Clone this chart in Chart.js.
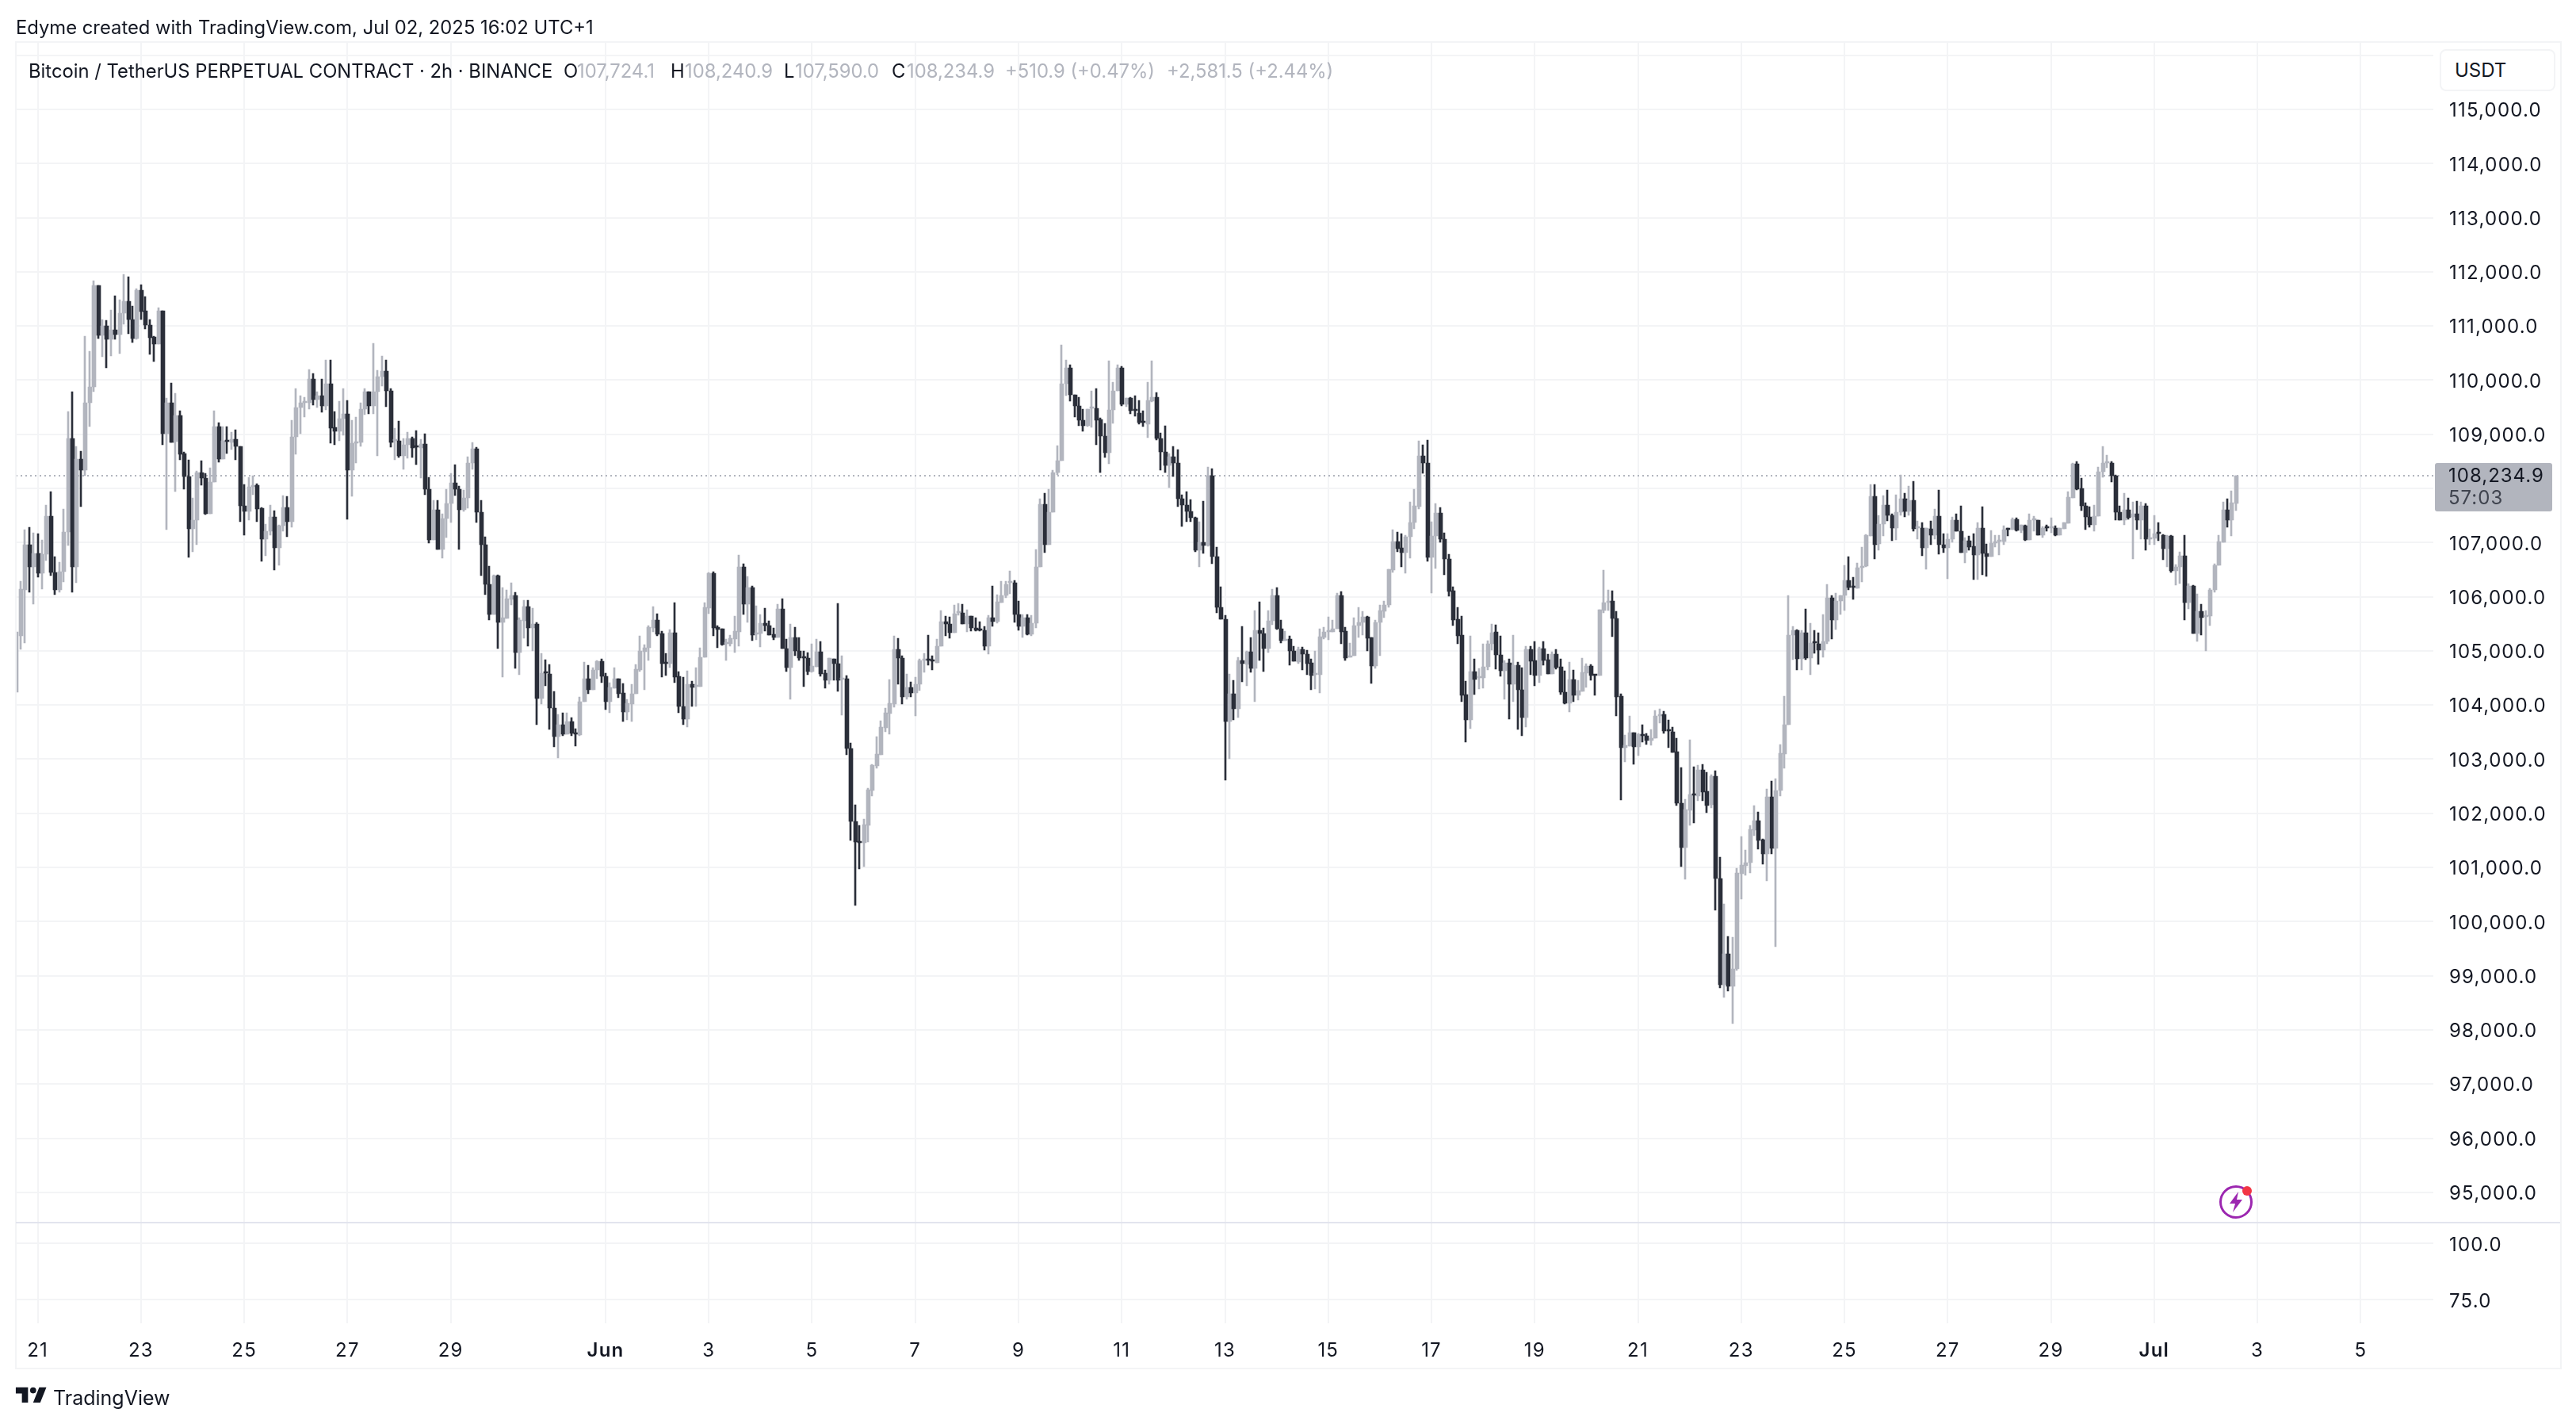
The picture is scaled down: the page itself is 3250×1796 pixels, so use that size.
<!DOCTYPE html>
<html>
<head>
<meta charset="utf-8">
<title>BTCUSDT 2h</title>
<script src="https://cdn.jsdelivr.net/npm/chart.js@4/dist/chart.umd.min.js"></script>
<style>
  html, body { margin: 0; padding: 0; background: #fff; }
  body { width: 3250px; height: 1796px; position: relative; overflow: hidden; font-family: Inter, sans-serif; color: #131722; }
  canvas { position: absolute; left: 0; top: 0; }
  .t { position: absolute; white-space: nowrap; font-size: 23.8px; line-height: 30px; }
  .g { color: #b2b5be; }
  #frame { position: absolute; left: 19px; top: 52px; width: 3209px; height: 1671px; border: 2px solid #f3f4f6; }
  #sep { position: absolute; left: 20px; top: 1541px; width: 3210px; height: 2px; background: #e2e4ee; }
  #usdt { position: absolute; left: 3078px; top: 62px; width: 142px; height: 49px; border: 2px solid #f3f4f6; border-radius: 8px; background: #fff; font-size: 24px; line-height: 49px; text-indent: 17px; }
  #tag { position: absolute; left: 3072px; top: 584px; width: 148px; height: 61px; background: #b2b5be; border-radius: 3px; font-size: 24px; letter-spacing: 1px; }
  #tag div { position: absolute; left: 17px; line-height: 28px; }
</style>
</head>
<body>
<canvas id="chartBTC" width="3250" height="1796"></canvas>
<div id="frame"></div>
<div id="sep"></div>
<div class="t" style="left:20px;top:20px">Edyme created with TradingView.com, Jul 02, 2025 16:02 UTC+1</div>
<div class="t" style="left:36px;top:75px">Bitcoin / TetherUS PERPETUAL CONTRACT · 2h · BINANCE</div>
<div class="t" style="left:711px;top:75px">O</div><div class="t g" style="left:728px;top:75px">107,724.1</div>
<div class="t" style="left:846px;top:75px">H</div><div class="t g" style="left:864px;top:75px">108,240.9</div>
<div class="t" style="left:989px;top:75px">L</div><div class="t g" style="left:1003px;top:75px">107,590.0</div>
<div class="t" style="left:1125px;top:75px">C</div><div class="t g" style="left:1144px;top:75px">108,234.9</div>
<div class="t g" style="left:1268px;top:75px">+510.9 (+0.47%)</div>
<div class="t g" style="left:1472px;top:75px">+2,581.5 (+2.44%)</div>
<div id="usdt">USDT</div>
<div id="tag"><div style="top:2px">108,234.9</div><div style="top:30px;color:#3f434e">57:03</div></div>
<svg style="position:absolute;left:2795px;top:1490px" width="52" height="52" viewBox="0 0 52 52">
  <circle cx="26" cy="26" r="19.5" fill="none" stroke="#9c27b0" stroke-width="3"/>
  <path d="M29 13 L18 28 L25 28 L22 39 L34 23 L27 23 Z" fill="#9c27b0"/>
  <circle cx="40" cy="12" r="6" fill="#f23645"/>
</svg>
<svg style="position:absolute;left:17px;top:1742px" width="47" height="36" viewBox="0 0 36 28"><path fill="#131722" d="M14 6H2v6h6v9h6V6Zm12 15h-7l6-15h7l-6 15Zm-7-9a3 3 0 1 0 0-6 3 3 0 0 0 0 6Z"/></svg>
<div class="t" style="left:67px;top:1748px;font-size:25px">TradingView</div>

<script>
// first visible bar sits 5 slots before May 21, one slot = 2h
var firstSlot = -5;

var opens = [
104230,105280,106124,106954,106549,106793,106427,106778,107486,106451,
106124,106466,107193,108916,106549,108540,108340,109589,109882,111746,
110829,111000,110756,110926,110838,111234,111453,111122,110770,111658,
111278,111024,110795,110663,111278,109013,109589,108867,109345,108643,
108223,107257,107422,108291,108184,107535,108111,109140,108540,108885,
108857,108906,108770,107681,107574,108037,108062,107633,107061,107208,
107471,106905,107315,107647,107389,108950,109487,109575,109575,110028,
109638,109721,109526,109940,109121,109052,109282,109370,108340,108833,
108857,109472,109780,109526,109780,110072,110175,109804,108872,108882,
108603,108799,108930,108774,108750,108823,107993,107055,107602,106880,
107441,107719,108105,107983,107612,107822,108467,108735,107554,106958,
106235,105674,106391,105527,105600,105957,106020,104975,105561,105820,
105429,105493,104126,104604,104575,103940,103413,103632,103462,103691,
103486,103452,104057,104487,104282,104643,104809,104536,104062,104311,
104487,104218,103867,104023,104204,104648,104990,105063,105429,105566,
105317,104795,104770,105332,104526,103979,103745,104380,104345,104345,
104878,105796,106430,105439,105405,105132,105127,105224,105356,106552,
105869,106172,105307,105322,105512,105466,105309,105241,105773,105040,
104684,105251,104992,104879,104869,104625,104713,104987,104586,104454,
104850,104762,104478,104488,103193,101854,101478,101449,101781,102426,
102880,103086,103584,103843,104024,105026,104860,104156,104322,104224,
104381,104821,104835,104821,104772,105084,105539,105495,105329,105700,
105700,105490,105642,105417,105387,105383,105080,105612,105544,105896,
106018,106252,106262,105666,105456,105612,105309,105505,106549,107707,
106960,107565,108289,108513,109932,110231,109730,109521,109260,109163,
109484,109484,109275,108961,108663,109447,109805,110231,109559,109671,
109447,109393,109225,109183,109618,109686,108927,108680,108429,108586,
108471,107811,107686,107576,107460,106853,107005,106953,108235,106738,
105811,105591,103701,104214,103937,104827,104754,104984,104670,105382,
105314,105036,105549,106021,105403,105183,105225,105005,104790,105026,
104947,104774,104565,104565,105251,105350,105350,105413,106026,105366,
104884,104905,105460,105523,105628,105246,104727,105523,105738,105853,
106497,107026,106906,106816,107110,107366,107670,108597,108476,106733,
107120,107550,107068,106701,106110,105586,105288,104188,103732,104617,
104502,104502,104712,105130,105350,104921,104633,104780,104387,104738,
104275,103762,105030,104826,104539,105047,104837,104567,104936,104699,
104231,104032,104473,104181,104258,104595,104716,104556,104539,105747,
105890,105918,105598,104165,103205,103244,103486,103227,103453,103431,
103338,103393,103795,103823,103531,103503,103139,102191,101369,102059,
102356,102323,102803,102400,102152,102687,100802,98833,99412,98806,
99120,100884,101028,101088,101695,101860,101518,101243,102307,101353,
102428,103101,103630,105289,105377,104854,105333,104865,105157,105129,
105019,105168,105978,105565,105918,106022,106309,106182,106150,106539,
106563,107119,107857,106972,107339,107696,107510,107266,107559,107804,
107569,107775,107266,107275,106899,107256,107134,107481,106962,106899,
107060,107422,107217,106811,107041,106933,106766,107266,106801,106737,
106996,107016,107016,107261,107236,107432,107231,107315,107055,107417,
107422,107143,107290,107275,107271,107143,107256,107354,107829,108450,
108005,107682,107476,107334,107486,108308,108465,108465,108230,107559,
107413,107608,107471,107525,107413,107682,107070,107075,107183,107143,
106884,107129,106483,106546,106761,105895,106203,105327,105734,105631,
105650,106120,106580,107011,107599,107422,107724.1
];

var highs = [
105344,106280,107232,107281,107174,107159,107047,107686,107940,106734,
106646,107613,109414,109794,108784,108682,110819,110541,111844,111756,
111126,111112,111292,111566,111488,111951,111907,111366,111688,111761,
111551,111126,110809,111336,111278,109677,109955,109755,109433,108672,
108525,107818,108320,108511,108272,108379,109433,109209,109150,109150,
109038,109082,108770,108071,108208,108242,108086,107647,107340,107686,
107589,107325,107876,107852,109267,109843,109721,109682,110194,110121,
109794,110028,110380,110380,109418,109609,109853,109623,109267,109316,
109589,109853,109794,110687,110185,110443,110370,109843,109116,109248,
108930,109043,108955,109067,108911,109009,108203,107783,107783,107529,
107993,108276,108442,108042,107978,108589,108852,108764,107783,107104,
106567,106406,106406,106172,106128,106259,106079,105610,105932,105932,
105786,105522,104951,104834,104751,104248,103823,103852,103852,103764,
103559,104145,104790,104731,104687,104829,104848,104585,104414,104692,
104487,104394,104101,104380,104746,105278,105112,105464,105815,105683,
105366,104956,105390,105893,104614,104511,104633,104438,104692,105053,
105893,106455,106465,105464,105415,105224,105293,105639,106767,106606,
106372,106196,105830,105669,105786,105554,105427,105861,105964,105221,
105500,105441,105251,104992,104967,105133,105221,105172,104645,104870,
104850,105876,104909,104542,103296,102157,101771,101888,102460,102905,
103413,103706,103941,104469,105275,105231,104918,104576,104430,104518,
104845,104957,105290,104909,105212,105739,105642,105627,105847,105876,
105866,105759,105642,105612,105539,105451,105661,106199,106033,106287,
106287,106482,106296,105920,105676,105671,105661,106873,107804,107916,
107990,108341,108790,110656,110380,110283,109730,109686,109462,109469,
109805,109842,109297,109200,110365,109970,110283,110253,109671,109686,
109717,109633,109440,109958,110351,109775,109031,109162,108649,108780,
108717,107879,107947,107801,107476,107392,107764,108403,108372,106916,
106178,105654,104570,104460,104879,105455,105000,105251,105748,105905,
105418,105748,106141,106172,105570,105366,105272,105088,105078,105068,
105015,104853,105000,105408,105434,105628,105565,106073,106094,105434,
105146,105612,105806,105727,105644,105246,105570,105853,105926,106508,
107246,107193,107172,107141,107759,107979,108885,108811,108900,107392,
107727,107654,107183,106785,106188,105806,105644,104439,105277,104853,
104675,105130,105193,105497,105481,105277,104816,104853,105288,104787,
104694,105085,105085,105168,105069,105168,104936,104980,105025,104854,
104633,104793,104650,104457,104870,104765,104749,104562,105763,106486,
106122,106111,105730,104203,103448,103795,103486,103470,103635,103470,
103542,103900,103927,103889,103723,103591,103382,102841,102257,103354,
102858,102886,102902,102753,102715,102781,101188,100333,99721,99710,
100984,101573,101325,101777,102141,102025,101535,102444,102593,102648,
103266,104164,106028,105449,105388,105377,105774,105510,105377,105339,
105675,106232,106028,106067,106022,106587,106737,106364,106618,106920,
107158,108079,108071,107496,107863,107966,107525,107878,108255,107917,
108049,108137,107403,107373,107275,107393,107623,107975,107168,107168,
107471,107525,107682,107099,107129,107173,107373,107657,106972,107227,
107143,107143,107315,107275,107452,107452,107334,107324,107535,107491,
107422,107305,107324,107466,107315,107275,107378,107936,108470,108504,
108186,107731,107657,107687,108401,108783,108612,108504,108255,107682,
107917,107819,107745,107770,107745,107716,107256,107496,107364,107158,
107143,107139,106590,106835,107143,106247,106213,106052,105866,105748,
106159,106615,107138,107755,107804,107951,108240.9
];

var lows = [
104230,105026,105148,106076,105866,106354,106144,106671,106393,106037,
106086,106271,106939,106085,106256,107662,108232,109145,109794,110770,
110429,110224,110448,110756,110487,111039,110853,110692,110750,111126,
110941,110477,110341,110663,108808,107242,108843,107940,108525,107989,
106720,106832,106963,108062,107515,107535,108111,108486,108540,108647,
108720,108525,107389,107140,107418,107881,107389,106656,106754,107135,
106490,106583,107208,107110,107281,108623,109013,109321,109467,109536,
109501,109404,109453,108833,108808,108877,108989,107432,107852,108467,
108779,109365,109379,109379,108599,109892,109511,108769,108530,108579,
108345,108564,108579,108447,108188,107886,106992,107055,106880,106714,
107099,107373,107871,106880,107583,107641,108345,107378,106396,106040,
105576,105674,105044,104516,105600,105854,104682,104565,105234,105092,
105005,103637,104023,104360,103549,103232,103027,103437,103462,103427,
103247,103437,104057,104209,104282,104492,104419,103915,103862,104311,
104135,103696,103730,103696,104204,104614,104282,104829,105356,105278,
104516,104546,104692,104419,103857,103637,103598,103979,103979,104345,
104878,105688,105283,105063,105102,104829,105092,104975,105092,105674,
105527,105195,105210,105073,105366,105285,105202,105241,105036,104625,
104112,104904,104830,104347,104566,104601,104713,104537,104317,104381,
104464,104259,103819,103086,101497,100305,100974,101009,101473,102323,
102831,103086,103501,103467,103956,104381,104014,104112,104146,103804,
104273,104601,104733,104640,104772,105084,105270,105226,105329,105651,
105490,105343,105358,105358,105358,105006,104933,105446,105505,105886,
105974,106052,105519,105373,105251,105285,105270,105427,106549,106818,
106960,107565,108252,108513,109708,109611,109312,109163,109058,109148,
109133,108812,108289,108565,108461,109200,109805,109521,109506,109372,
109330,109183,109136,108942,109602,108900,108335,108298,108010,108220,
107659,107303,107392,107392,106832,106544,106806,106937,106612,105706,
105591,102617,103010,103727,103769,104434,104356,104607,104068,104816,
104617,104963,105487,105392,105146,105183,104738,104801,104764,104649,
104555,104282,104303,104225,105225,105198,105350,105413,105130,104816,
104884,104905,105251,105288,105000,104397,104670,104911,105612,105811,
106450,106832,106544,106439,106717,107256,107623,108272,106649,106073,
106518,107000,106408,106010,105460,105130,104068,103308,103570,104198,
104293,104314,104649,105015,104659,104523,104109,103743,104057,103542,
103431,103597,104562,104357,104407,104738,104567,104567,104661,104198,
104021,103878,104065,104098,104258,104330,104462,104181,104539,105708,
105747,105267,103801,102252,102952,103244,102908,103062,103316,103271,
103255,103393,103668,103475,103211,103117,102136,101022,100785,101777,
101821,102224,102235,102015,102097,100217,98778,98596,98718,98117,
99093,100416,100857,100901,101584,101342,101066,100746,101243,99534,
102318,102825,103630,104843,104650,104650,104837,104562,104958,104754,
104881,105129,105212,105388,105675,105752,106126,105944,106150,106269,
106547,107119,106698,106864,107119,107398,107031,107045,107496,107471,
107510,107207,107060,106752,106502,106957,107070,106791,106811,106336,
107001,107207,106811,106620,106864,106311,106311,106409,106370,106737,
106913,106766,106957,107129,107236,107217,107187,107041,107055,107207,
107143,107099,107217,107187,107119,107143,107256,107354,107829,107966,
107584,107236,107290,107207,107486,108206,108377,108113,107422,107413,
107324,107432,106693,107236,107060,106864,106957,106967,107031,106688,
106556,106443,106218,106238,105577,105782,105327,105180,105298,105004,
105474,106076,106580,107011,107290,107129,107590
];

var closes = [
105344,106134,106954,106549,106793,106427,106778,107486,106451,106124,
106466,107193,108916,106549,108540,108340,109589,109882,111746,110829,
111000,110756,110926,110838,111234,111453,111122,110770,111658,111268,
111014,110780,110663,111278,109013,109589,108857,109345,108633,108223,
107257,107422,108291,108184,107525,108111,109140,108540,108877,108870,
108906,108770,107681,107574,108037,108062,107623,107061,107208,107471,
106905,107315,107647,107389,108950,109487,109575,109589,110028,109638,
109721,109526,109940,109111,109052,109282,109370,108340,108833,108867,
109472,109780,109526,109780,110072,110175,109804,108852,108896,108603,
108808,108921,108750,108755,108823,107993,107055,107602,106880,107441,
107719,108105,107983,107612,107822,108467,108735,107554,106958,106235,
105674,106391,105527,105610,105966,106020,104975,105571,105820,105429,
105493,104126,104585,104585,103940,103413,103632,103462,103691,103476,
103457,104057,104487,104282,104643,104809,104536,104062,104321,104487,
104209,103877,104028,104204,104658,104995,105063,105439,105566,105307,
104770,104770,105332,104521,103979,103745,104380,104331,104355,104882,
105805,106440,105429,105390,105122,105146,105234,105366,106552,105869,
106172,105298,105332,105512,105464,105295,105241,105773,105036,104684,
105251,104992,104860,104860,104625,104718,104987,104576,104464,104860,
104762,104464,104498,103193,101854,101473,101449,101791,102436,102890,
103096,103589,103853,104029,105026,104860,104156,104322,104224,104381,
104821,104830,104821,104806,105084,105539,105495,105334,105686,105715,
105490,105642,105417,105383,105373,105080,105612,105544,105905,106023,
106228,106262,105666,105456,105612,105309,105514,106551,107707,106960,
107565,108289,108513,109932,110231,109730,109521,109260,109163,109469,
109506,109260,108961,108663,109447,109805,110231,109559,109671,109432,
109440,109215,109215,109633,109686,108916,108670,108429,108586,108466,
107811,107686,107570,107455,106853,107005,106953,108235,106738,105811,
105591,103701,104214,103937,104816,104764,104984,104670,105382,105314,
105036,105560,106021,105403,105183,105225,105005,104801,105026,104947,
104764,104539,104581,105261,105350,105366,105413,106026,105350,104869,
104905,105466,105523,105628,105235,104727,105523,105748,105853,106508,
107026,106890,106816,107110,107371,107680,108597,108466,106733,107120,
107550,107057,106691,106099,105575,105282,104183,103732,104617,104471,
104513,104712,105130,105340,104921,104633,104780,104387,104738,104275,
103762,105030,104810,104539,105047,104826,104567,104936,104688,104231,
104032,104473,104181,104264,104606,104716,104539,104539,105763,105890,
105918,105592,104153,103205,103255,103486,103227,103459,103437,103338,
103393,103795,103823,103514,103514,103128,102191,101369,102070,102345,
102334,102803,102389,102141,102687,100802,98833,99412,98806,99120,
100895,101039,101094,101706,101860,101502,101243,102307,101353,102428,
103106,103630,105289,105377,104854,105333,104865,105146,105140,105019,
105168,105978,105565,105918,106022,106309,106166,106166,106539,106563,
107142,107857,106960,107339,107696,107501,107266,107559,107804,107569,
107775,107251,107285,106899,107266,107134,107481,106962,106899,107070,
107422,107207,106811,107041,106923,106766,107266,106796,106737,106996,
107016,107036,107246,107246,107432,107231,107324,107055,107413,107432,
107143,107275,107275,107285,107143,107266,107364,107843,108450,107990,
107677,107471,107334,107491,108313,108465,108480,108230,107559,107413,
107608,107461,107525,107413,107682,107060,107094,107173,107168,106884,
107129,106483,106546,106761,105895,106203,105327,105734,105621,105650,
106130,106585,107021,107599,107422,107731,108234.9
];

var lastPrice = 108234.9;
var priceTicks = [116000,115000,114000,113000,112000,111000,110000,109000,108000,107000,106000,105000,104000,103000,102000,101000,100000,99000,98000,97000,96000,95000];
var hiddenPriceLabels = [116000, 108000];
var paneTicks = [100, 75];
var dayTicks = [0,2,4,6,8,11,13,15,17,19,21,23,25,27,29,31,33,35,37,39,41,43,45];
var dayLabels = ['21','23','25','27','29','Jun','3','5','7','9','11','13','15','17','19','21','23','25','27','29','Jul','3','5'];

var upColor = '#b2b5be';
var downColor = '#2a2e39';
var gridColor = '#f3f4f6';
var fontName = 'Inter, sans-serif';
var slotsPerDay = 12;
var xMin = -5.085, xMax = 556.9;

var slots = opens.map(function (v, i) { return firstSlot + i; });
var barColors = opens.map(function (v, i) { return closes[i] >= v ? upColor : downColor; });
var tickSlots = dayTicks.map(function (d) { return d * slotsPerDay; });

function fmt(v) {
    return v.toLocaleString('en-US', { minimumFractionDigits: 1, maximumFractionDigits: 1 });
}

// keep candles on whole pixels, the way the original platform draws them
var snapBars = {
    id: 'snapBars',
    afterDatasetsUpdate: function (chart) {
        [1, 2].forEach(function (d) {
            chart.getDatasetMeta(d).data.forEach(function (el) {
                el.x = Math.round(el.x) + (d === 2 ? 0.5 : 0);
                el.y = Math.round(el.y);
                el.base = Math.round(el.base);
            });
        });
    },
    beforeDraw: function (chart) {
        chart.ctx.letterSpacing = '1.2px';
    }
};

var ctx = document.getElementById('chartBTC');
var myChart = new Chart(ctx, {
    type: 'bar',
    plugins: [snapBars],
    data: {
        datasets: [{
            type: 'line',
            data: [{ x: xMin, y: lastPrice }, { x: xMax, y: lastPrice }],
            borderColor: '#b2b5be',
            borderWidth: 2,
            borderDash: [2, 4],
            pointRadius: 0,
            yAxisID: 'y',
            order: 3
        }, {
            // wicks
            data: slots.map(function (s, i) { return { x: s, y: [lows[i], highs[i]] }; }),
            backgroundColor: barColors,
            barThickness: 2,
            grouped: false,
            yAxisID: 'y',
            order: 2
        }, {
            // bodies
            data: slots.map(function (s, i) { return { x: s, y: [opens[i], closes[i]] }; }),
            backgroundColor: barColors,
            barThickness: 5,
            minBarLength: 2,
            grouped: false,
            yAxisID: 'y',
            order: 1
        }]
    },
    options: {
        responsive: false,
        devicePixelRatio: 1,
        animation: false,
        layout: { padding: { left: 20, top: 53, right: 20, bottom: 71 } },
        plugins: { legend: { display: false }, tooltip: { enabled: false } },
        scales: {
            x: {
                type: 'linear',
                min: xMin,
                max: xMax,
                offset: false,
                grid: { color: gridColor, lineWidth: 2, offset: false, drawTicks: false },
                border: { display: false },
                afterBuildTicks: function (scale) {
                    scale.ticks = tickSlots.map(function (s) { return { value: s }; });
                },
                afterFit: function (scale) { scale.height = 56; },
                ticks: {
                    autoSkip: false,
                    maxRotation: 0,
                    padding: 20,
                    color: '#131722',
                    font: function (c) {
                        var bold = c.tick && (c.tick.label === 'Jun' || c.tick.label === 'Jul');
                        return { family: fontName, size: 24, weight: bold ? '600' : '400' };
                    },
                    callback: function (v) { return dayLabels[tickSlots.indexOf(v)]; }
                }
            },
            y: {
                type: 'linear',
                position: 'right',
                stack: 'panes',
                stackWeight: 1488.7,
                min: 94445,
                max: 116245,
                grid: { color: gridColor, lineWidth: 2, drawTicks: false },
                border: { display: false },
                afterBuildTicks: function (scale) {
                    scale.ticks = priceTicks.map(function (v) { return { value: v }; });
                },
                afterFit: function (scale) { scale.width = 160; },
                ticks: {
                    padding: 20,
                    labelOffset: 2,
                    color: '#131722',
                    font: { family: fontName, size: 24 },
                    callback: function (v) { return hiddenPriceLabels.indexOf(v) >= 0 ? '' : fmt(v); }
                }
            },
            yPane: {
                type: 'linear',
                position: 'right',
                stack: 'panes',
                stackWeight: 127.3,
                min: 64.5,
                max: 109.1,
                grid: { color: gridColor, lineWidth: 2, drawTicks: false },
                border: { display: false },
                afterBuildTicks: function (scale) {
                    scale.ticks = paneTicks.map(function (v) { return { value: v }; });
                },
                afterFit: function (scale) { scale.width = 160; },
                ticks: {
                    padding: 20,
                    labelOffset: 3,
                    color: '#131722',
                    font: { family: fontName, size: 24 },
                    callback: fmt
                }
            }
        }
    }
});
</script>
</body>
</html>
